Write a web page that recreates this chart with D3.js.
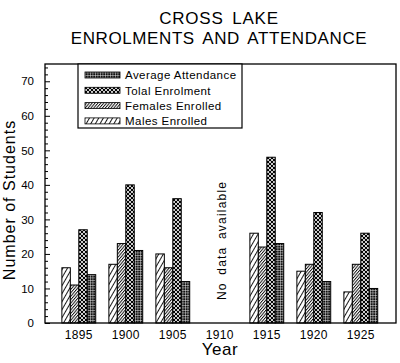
<!DOCTYPE html>
<html><head><meta charset="utf-8">
<script src="https://cdn.jsdelivr.net/npm/d3@7"></script>
<style>
html,body{margin:0;padding:0;background:#fff;}
svg{display:block;font-family:"Liberation Sans",Arial,sans-serif;}
</style></head>
<body>
<svg id="c" width="400" height="363"></svg>
<script>
const years = ["1895","1900","1905","1910","1915","1920","1925"];
const males = [16,17,20,null,26,15,9];
const females = [11,23,16,null,22,17,17];
const total = [27,40,36,null,48,32,26];
const attendance = [14,21,12,null,23,12,10];
const seriesKeys = ["males","females","total","attendance"];
const legendOrder = ["attendance","total","females","males"];
const legendLabels = ["Average Attendance","Tolal Enrolment","Females Enrolled","Males Enrolled"];
const majorTicks = [0,10,20,30,40,50,60,70];
const noDataYear = "1910";
const noDataText = "No data available";

const svg = d3.select("#c");
const L=45,R=396,T=64,B=323;

const defs = svg.append("defs");
let p = defs.append("pattern").attr("id","pm").attr("patternUnits","userSpaceOnUse")
  .attr("width",4).attr("height",10).attr("patternTransform","rotate(30)");
p.append("rect").attr("width",4).attr("height",10).attr("fill","#fff");
p.append("line").attr("x1",0.5).attr("x2",0.5).attr("y1",0).attr("y2",10).attr("stroke","#000").attr("stroke-width",0.9);
p = defs.append("pattern").attr("id","pf").attr("patternUnits","userSpaceOnUse")
  .attr("width",2.2).attr("height",10).attr("patternTransform","rotate(40)");
p.append("rect").attr("width",2.2).attr("height",10).attr("fill","#fff");
p.append("line").attr("x1",0.5).attr("x2",0.5).attr("y1",0).attr("y2",10).attr("stroke","#000").attr("stroke-width",0.9);
p = defs.append("pattern").attr("id","pt").attr("patternUnits","userSpaceOnUse")
  .attr("width",4).attr("height",4);
p.append("rect").attr("width",4).attr("height",4).attr("fill","#000");
[[0,0],[4,0],[0,4],[4,4],[2,2]].forEach(c=>p.append("circle").attr("cx",c[0]).attr("cy",c[1]).attr("r",1.1).attr("fill","#fff"));
p = defs.append("pattern").attr("id","pa").attr("patternUnits","userSpaceOnUse")
  .attr("width",2.5).attr("height",2.5);
p.append("rect").attr("width",2.5).attr("height",2.5).attr("fill","#111");
p.append("rect").attr("width",2.5).attr("height",0.6).attr("fill","#fff").attr("opacity",0.7);
p.append("rect").attr("width",0.6).attr("height",2.5).attr("fill","#fff").attr("opacity",0.7);
const fills = {males:"url(#pm)",females:"url(#pf)",total:"url(#pt)",attendance:"url(#pa)"};
const dataBy = {males,females,total,attendance};

const x0 = d3.scaleBand().domain(years).range([L,R]).paddingInner(0.28).paddingOuter(0.374).align(0.48);
const x1 = d3.scaleBand().domain(seriesKeys).range([0,x0.bandwidth()]);
const y = d3.scaleLinear().domain([0,75]).range([B,T]);

svg.append("text").attr("x",219).attr("y",24).attr("text-anchor","middle")
  .attr("font-size",17).attr("letter-spacing",0.8).attr("word-spacing",3).text("CROSS LAKE");
svg.append("text").attr("x",219).attr("y",43.5).attr("text-anchor","middle")
  .attr("font-size",17).attr("letter-spacing",0.6).attr("word-spacing",3).text("ENROLMENTS AND ATTENDANCE");

const g = svg.append("g");
years.forEach((yr,i)=>{
  seriesKeys.forEach(k=>{
    const v = dataBy[k][i];
    if(v==null) return;
    g.append("rect").attr("x",x0(yr)+x1(k)).attr("y",y(v))
      .attr("width",x1.bandwidth()).attr("height",y(0)-y(v))
      .attr("fill",fills[k]).attr("stroke","#000").attr("stroke-width",1);
  });
});

svg.append("rect").attr("x",L).attr("y",T).attr("width",R-L).attr("height",B-T)
  .attr("fill","none").attr("stroke","#000").attr("stroke-width",1.3);

const ya = svg.append("g").attr("transform",`translate(${L},0)`)
  .call(d3.axisLeft(y).tickValues(majorTicks).tickSize(-5).tickSizeOuter(0).tickPadding(11));
ya.select(".domain").remove();
ya.selectAll("text").attr("font-size",11.5).attr("font-family","Liberation Sans, Arial, sans-serif");
const minor = d3.range(2,75,2).filter(v=>v%10!==0);
const ym = svg.append("g").attr("transform",`translate(${L},0)`)
  .call(d3.axisLeft(y).tickValues(minor).tickSize(-3).tickSizeOuter(0).tickFormat(""));
ym.select(".domain").remove();

const xa = svg.append("g").attr("transform",`translate(0,${B})`)
  .call(d3.axisBottom(x0).tickSize(0).tickPadding(7));
xa.select(".domain").remove();
xa.selectAll("text").attr("font-size",12).attr("letter-spacing",0.3).attr("font-family","Liberation Sans, Arial, sans-serif");

svg.append("text").attr("x",220).attr("y",355).attr("text-anchor","middle")
  .attr("font-size",17).attr("letter-spacing",0.5).text("Year");
svg.append("text").attr("transform","translate(15,200) rotate(-90)").attr("text-anchor","middle")
  .attr("font-size",16).attr("letter-spacing",1).text("Number of Students");

const nx = x0(noDataYear)+x0.bandwidth()/2;
svg.append("text").attr("transform",`translate(${nx+6},300) rotate(-90)`).attr("text-anchor","start")
  .attr("font-size",12).attr("letter-spacing",1.2).attr("word-spacing",3).text(noDataText);

const lg = svg.append("g");
lg.append("rect").attr("x",78).attr("y",T).attr("width",164).attr("height",64)
  .attr("fill","#fff").attr("stroke","#000").attr("stroke-width",1.2);
legendOrder.forEach((k,i)=>{
  const cy = 75 + i*15.3;
  lg.append("rect").attr("x",85).attr("y",cy-3).attr("width",35).attr("height",6)
    .attr("fill",fills[k]).attr("stroke","#000").attr("stroke-width",0.8);
  lg.append("text").attr("x",125).attr("y",cy+4.2).attr("font-size",11.5).attr("letter-spacing",0.45).text(legendLabels[i]);
});
</script>
</body></html>
